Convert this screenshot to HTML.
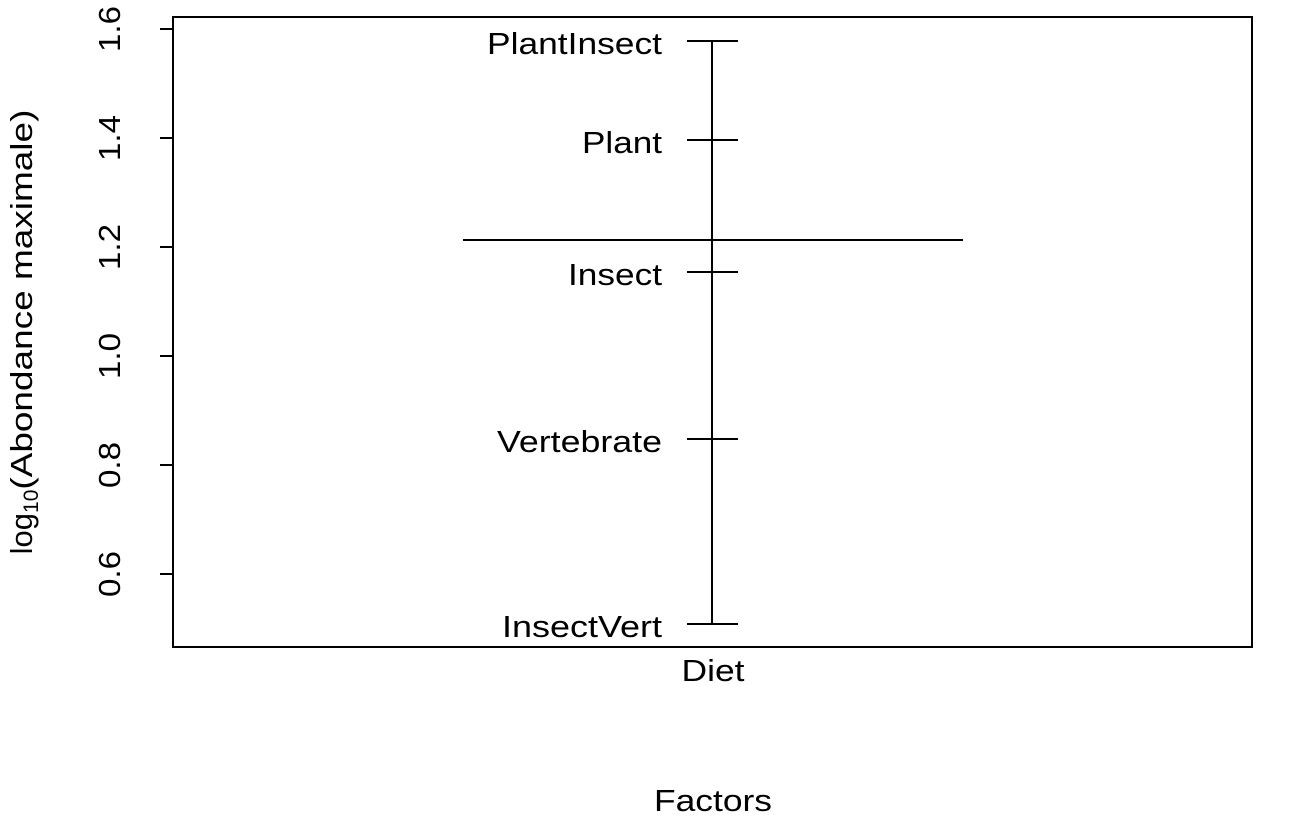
<!DOCTYPE html>
<html><head><style>body{margin:0;background:#fff}</style></head><body>
<svg width="1296" height="820" xmlns="http://www.w3.org/2000/svg" font-family="Liberation Sans, sans-serif" font-size="31" fill="#000">
<rect x="173" y="17" width="1079" height="630" fill="none" stroke="#000" stroke-width="2"/>
<g stroke="#000" stroke-width="2">
<line x1="173" y1="29" x2="173" y2="574"/>
<line x1="160" y1="29" x2="173" y2="29"/>
<line x1="160" y1="138" x2="173" y2="138"/>
<line x1="160" y1="247" x2="173" y2="247"/>
<line x1="160" y1="356" x2="173" y2="356"/>
<line x1="160" y1="465" x2="173" y2="465"/>
<line x1="160" y1="574" x2="173" y2="574"/>
<line x1="712" y1="41" x2="712" y2="624"/>
<line x1="687" y1="41" x2="738" y2="41"/>
<line x1="687" y1="140" x2="738" y2="140"/>
<line x1="687" y1="272" x2="738" y2="272"/>
<line x1="687" y1="439" x2="738" y2="439"/>
<line x1="687" y1="624" x2="738" y2="624"/>
<line x1="463" y1="240" x2="963" y2="240"/>
</g>
<g text-anchor="middle">
<text transform="translate(120,29) rotate(-90)" textLength="46" lengthAdjust="spacingAndGlyphs">1.6</text>
<text transform="translate(120,138) rotate(-90)" textLength="46" lengthAdjust="spacingAndGlyphs">1.4</text>
<text transform="translate(120,247) rotate(-90)" textLength="46" lengthAdjust="spacingAndGlyphs">1.2</text>
<text transform="translate(120,356) rotate(-90)" textLength="46" lengthAdjust="spacingAndGlyphs">1.0</text>
<text transform="translate(120,465) rotate(-90)" textLength="46" lengthAdjust="spacingAndGlyphs">0.8</text>
<text transform="translate(120,574) rotate(-90)" textLength="46" lengthAdjust="spacingAndGlyphs">0.6</text>
<text transform="translate(32,332) rotate(-90)">log<tspan font-size="21" dy="6">10</tspan><tspan dy="-6" textLength="380" lengthAdjust="spacingAndGlyphs">(Abondance maximale)</tspan></text>
<text x="713" y="681" textLength="63" lengthAdjust="spacingAndGlyphs">Diet</text>
<text x="713" y="811" textLength="118" lengthAdjust="spacingAndGlyphs">Factors</text>
</g>
<g text-anchor="end">
<text x="662" y="54" textLength="175" lengthAdjust="spacingAndGlyphs">PlantInsect</text>
<text x="662" y="153" textLength="80" lengthAdjust="spacingAndGlyphs">Plant</text>
<text x="662" y="285" textLength="94" lengthAdjust="spacingAndGlyphs">Insect</text>
<text x="662" y="452" textLength="165" lengthAdjust="spacingAndGlyphs">Vertebrate</text>
<text x="662" y="637" textLength="160" lengthAdjust="spacingAndGlyphs">InsectVert</text>
</g>
</svg>
</body></html>
